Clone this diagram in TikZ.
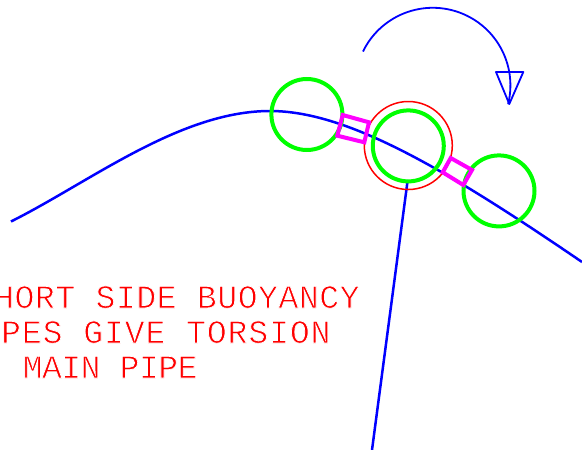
\documentclass[tikz,border=0pt]{standalone}
\usepackage{fontspec}
\newfontfamily\cadfont{Liberation Mono}
\definecolor{puremagenta}{rgb}{1,0,1}
\definecolor{puregreen}{rgb}{0,1,0}
\definecolor{pureblue}{rgb}{0,0,1}
\definecolor{purered}{rgb}{1,0,0}
\newcommand{\thinstroke}[1]{\special{pdf: code q 2 Tr 1 1 1 RG 0.75 w}#1\special{pdf: code 0 Tr Q}}
\tikzset{
 pipe/.style={draw=pureblue,line width=2.5pt,line join=round},
 thinblue/.style={draw=pureblue,line width=1.8pt,line join=round},
 buoy/.style={draw=puregreen,line width=4pt},
 redring/.style={draw=purered,line width=1.5pt},
 link/.style={draw=puremagenta,line width=4pt,line join=miter},
 note/.style={text=purered,inner sep=0pt,anchor=base west}
}
\begin{document}
\begin{tikzpicture}[x=1pt,y=1pt,yscale=-1]
\useasboundingbox (0,0) rectangle (582,450);
\clip (0,0) rectangle (582,450);
\draw[pipe] (11,221.5) .. controls (90,182) and (180,111) .. (270,111) .. controls (345,111) and (440,165) .. (582,262);
\coordinate (stemtop) at (407.7,180);
\coordinate (stemend) at (372,450);
\draw[pipe] (stemtop) -- (stemend);
\draw[buoy] (306.9,114.5) circle[radius=35.5];
\draw[redring] (408.3,145.5) circle[radius=44];
\draw[buoy] (408.3,145.9) circle[radius=35.5];
\draw[buoy] (499,190.9) circle[radius=35.5];
\draw[link] (342.7,115) -- (369,122.3) -- (364.3,142.3) -- (337.3,135.7) -- cycle;
\draw[link] (450.7,158) -- (472,170) -- (463.3,185) -- (442.7,172.3) -- cycle;
\draw[thinblue] (363,51.5) arc[start angle=205.9,end angle=374,radius=77.6];
\draw[thinblue] (496,72) -- (523.3,72) -- (509.3,104) -- cycle;
\node[note,font={\cadfont\addfontfeature{LetterSpace=1.8}\fontsize{33}{33}\selectfont}] (l1) at (-6,308) {\thinstroke{HORT SIDE BUOYANCY}};
\node[note,font={\cadfont\addfontfeature{LetterSpace=2.9}\fontsize{33}{33}\selectfont}] (l2) at (1,343) {\thinstroke{PES GIVE TORSION}};
\node[note,font={\cadfont\addfontfeature{LetterSpace=-1.5}\fontsize{33}{33}\selectfont}] (l3) at (22.5,378) {\thinstroke{MAIN PIPE}};
\end{tikzpicture}
\end{document}
